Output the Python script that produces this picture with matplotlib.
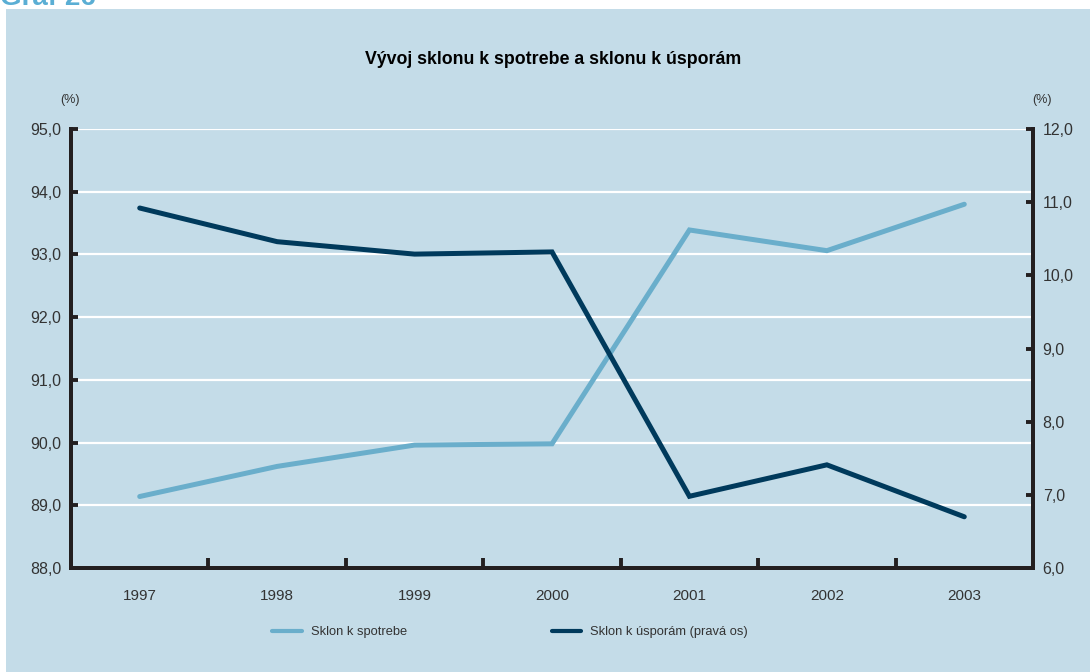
import matplotlib.pyplot as plt
from matplotlib.patches import Rectangle
from matplotlib.ticker import FixedLocator, FuncFormatter

# Sklon k spotrebe / sklon k úsporám, 1997-2003
years = ['1997', '1998', '1999', '2000', '2001', '2002', '2003']
spotreba = [89.14, 89.62, 89.96, 89.98, 93.39, 93.06, 93.80]
uspory = [10.92, 10.46, 10.29, 10.32, 6.98, 7.41, 6.70]

left_ticks = [88, 89, 90, 91, 92, 93, 94, 95]
right_ticks = [6, 7, 8, 9, 10, 11, 12]

bg = '#c4dce8'
light = '#6aaecb'
dark = '#003a5c'
ink = '#231f20'
txt = '#333333'

plt.rcParams['font.family'] = ['Liberation Sans', 'DejaVu Sans']

fig = plt.figure(figsize=(10.9, 6.72), dpi=100)
fig.patches.append(Rectangle((6 / 1090, 0), 1, 1 - 9 / 672, transform=fig.transFigure,
                             facecolor=bg, edgecolor='none', zorder=-10))
# section heading, mostly above the page edge
fig.text(0.0, 1 - 5 / 672, 'Graf 26', color='#5aaed4', fontsize=20, fontweight='bold',
         va='baseline', ha='left')

ax = fig.add_axes([71 / 1090, 1 - 568 / 672, (1033 - 71) / 1090, (568 - 129) / 672])
ax.patch.set_visible(False)
ax2 = ax.twinx()
ax2.patch.set_visible(False)

x = list(range(len(years)))
ax.plot(x, spotreba, color=light, lw=3.6, solid_capstyle='round', solid_joinstyle='miter', zorder=3)
ax2.plot(x, uspory, color=dark, lw=3.6, solid_capstyle='round', solid_joinstyle='miter', zorder=3)

ax.set_xlim(-0.5, 6.5)
ax.set_ylim(88, 95)
ax2.set_ylim(6, 12)

ax.set_yticks(left_ticks)
ax2.set_yticks(right_ticks)
comma = FuncFormatter(lambda v, p: f'{v:.1f}'.replace('.', ','))
ax.yaxis.set_major_formatter(comma)
ax2.yaxis.set_major_formatter(comma)

ax.set_xticks(x)
ax.set_xticklabels(years)
ax.xaxis.set_minor_locator(FixedLocator([i + 0.5 for i in range(len(years) - 1)]))

for a in (ax, ax2):
    a.spines['top'].set_visible(False)
    for s in ('left', 'right', 'bottom'):
        a.spines[s].set_linewidth(2.8)
        a.spines[s].set_color(ink)
        a.spines[s].set_capstyle('projecting')

ax.grid(axis='y', color='white', lw=1.6)
ax.set_axisbelow(True)

ax.tick_params(axis='x', which='major', length=0, pad=15, labelsize=11, labelcolor=txt)
ax.tick_params(axis='x', which='minor', direction='in', length=7, width=2.8, color=ink)
ax.tick_params(axis='y', direction='in', length=5, width=2.8, color=ink, labelsize=11.5,
               labelcolor=txt, pad=7)
ax2.tick_params(axis='y', direction='in', length=5, width=2.8, color=ink, labelsize=11.5,
                labelcolor=txt, pad=7)

fig.text(70 / 1090, 1 - 100 / 672, '(%)', fontsize=9, color=txt, ha='center', va='center')
fig.text(1042 / 1090, 1 - 100 / 672, '(%)', fontsize=9, color=txt, ha='center', va='center')
fig.text(553 / 1090, 1 - 60 / 672, 'Vývoj sklonu k spotrebe a sklonu k úsporám',
         fontsize=12.8, fontweight='bold', color='black', ha='center', va='center')

h1, = ax.plot([], [], color=light, lw=3, solid_capstyle='round')
h2, = ax.plot([], [], color=dark, lw=3, solid_capstyle='round')
leg = fig.legend([h1, h2], ['Sklon k spotrebe', 'Sklon k úsporám (pravá os)'],
                 loc='center left', bbox_to_anchor=(272 / 1090, 1 - 632 / 672), ncol=2,
                 frameon=False, fontsize=9.3, handlelength=2.3, handletextpad=0.7,
                 columnspacing=11.2, borderpad=0, borderaxespad=0)
for t in leg.get_texts():
    t.set_color(txt)

fig.savefig('out.png', dpi=100, facecolor='white')
